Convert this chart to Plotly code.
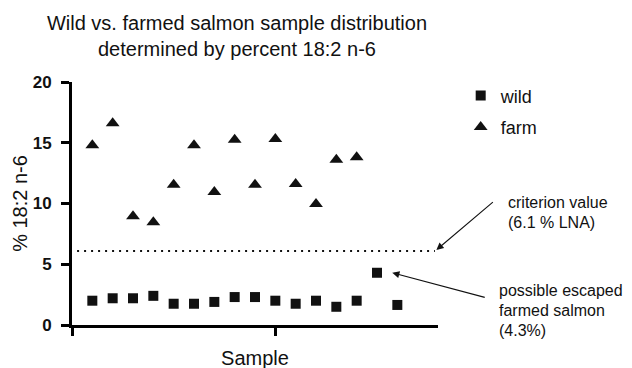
import plotly.graph_objects as go

# Data
wild_sample = list(range(1, 17))
wild_value = [2.0, 2.2, 2.2, 2.4, 1.75, 1.75, 1.9, 2.3, 2.3, 2.0, 1.75, 2.0, 1.5, 2.0, 4.3, 1.65]
farm_sample = list(range(1, 15))
farm_value = [14.8, 16.6, 8.95, 8.45, 11.55, 14.8, 10.95, 15.25, 11.55, 15.3, 11.6, 9.95, 13.6, 13.8]
criterion = 6.1
escaped_sample = 15
escaped_value = 4.3
y_ticks = [0, 5, 10, 15, 20]
x_ticks = [0, 10]

FONT = "Liberation Sans, Arial, Helvetica, sans-serif"
INK = "#111111"
AXIS = "black"

fig = go.Figure()
fig.add_trace(go.Scatter(
    x=wild_sample, y=wild_value, mode="markers", name="wild",
    legendgroup="w",
    marker=dict(symbol="square", size=10, color=INK), cliponaxis=False))
fig.add_trace(go.Scatter(
    x=farm_sample, y=farm_value, mode="markers", name="farm",
    legendgroup="f",
    marker=dict(symbol="triangle-up", size=12, color=INK), cliponaxis=False))

fig.add_shape(type="line", xref="x", yref="y", x0=0.25, x1=17.85, y0=criterion, y1=criterion,
              line=dict(color=INK, width=2, dash="2px,5px"))

ann_font = dict(family=FONT, size=16, color=INK)
fig.add_annotation(x=17.92, y=criterion + 0.08, xref="x", yref="y", text="", showarrow=True,
                   ax=58, ay=-49, arrowhead=2, arrowsize=1.3, arrowwidth=1.1, arrowcolor=INK)
fig.add_annotation(x=escaped_sample + 0.75, y=escaped_value, xref="x", yref="y", text="", showarrow=True,
                   ax=94, ay=25, arrowhead=2, arrowsize=1.3, arrowwidth=1.1, arrowcolor=INK)
labels = [
    ("criterion value", 1.1857, 0.5033),
    ("(6.1 % LNA)", 1.1857, 0.4198),
    ("possible escaped", 1.1601, 0.1412),
    ("farmed salmon", 1.1601, 0.0588),
    ("(4.3%)", 1.1601, -0.0235),
]
for t, px, py in labels:
    fig.add_annotation(x=px, y=py, xref="paper", yref="paper", text=t, showarrow=False,
                       xanchor="left", yanchor="middle", font=ann_font)

fig.update_layout(
    width=632, height=368,
    margin=dict(l=64, r=202, t=74, b=51, autoexpand=False),
    paper_bgcolor="white", plot_bgcolor="white",
    font=dict(family=FONT, color=INK),
    title=dict(text="Wild vs. farmed salmon sample distribution<br>determined by percent 18:2 n-6",
               x=0.3623, xanchor="center", y=0.94, yanchor="top", yref="container",
               font=dict(family=FONT, size=20, color=INK)),
    showlegend=True,
    legend=dict(x=1.062, xanchor="left", y=1.019, yanchor="top", traceorder="grouped",
                tracegroupgap=5, font=dict(family=FONT, size=18, color=INK),
                bgcolor="rgba(0,0,0,0)"),
    xaxis=dict(range=[0, 18], showgrid=False, zeroline=False, showline=True, linewidth=3,
               linecolor=AXIS, ticks="outside", ticklen=8, tickwidth=3, tickcolor=AXIS,
               tickmode="array", tickvals=x_ticks, ticktext=["", ""],
               title=dict(text="Sample", standoff=14, font=dict(family=FONT, size=20, color=INK))),
    yaxis=dict(range=[0, 20], showgrid=False, zeroline=False, showline=True, linewidth=3,
               linecolor=AXIS, ticks="outside", ticklen=8, tickwidth=3, tickcolor=AXIS,
               tickvals=y_ticks, ticklabelstandoff=6, automargin=False,
               tickfont=dict(family=FONT, size=17, color=INK, weight="bold"),
               title=dict(text="% 18:2 n-6", standoff=0, font=dict(family=FONT, size=20, color=INK))),
)

fig.write_html("out.html")
